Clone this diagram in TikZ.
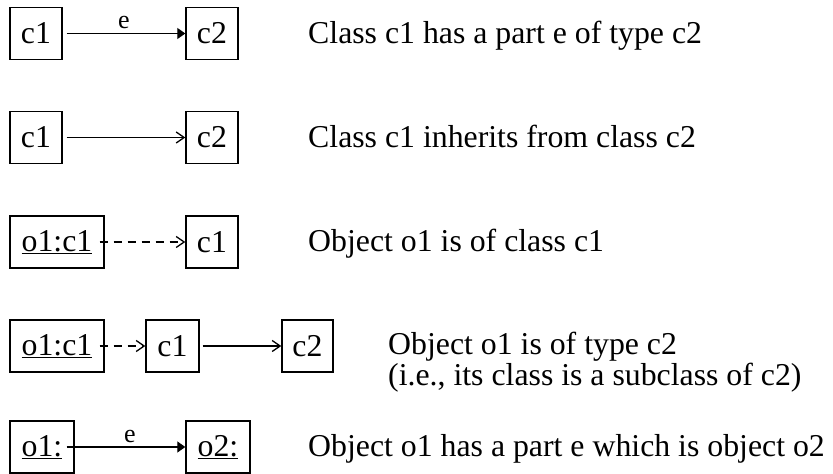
\documentclass[tikz,border=0pt]{standalone}
\usepackage{fontspec}
\setmainfont{Liberation Serif}
\usetikzlibrary{arrows.meta}
\begin{document}
\begin{tikzpicture}[x=1pt,y=1pt,
  box/.style={draw, line width=1.4pt, minimum height=52pt, inner sep=0pt, font=\fontsize{31.8}{36}\selectfont},
  desc/.style={anchor=base west, inner sep=0pt, font=\fontsize{31.8}{31}\selectfont, align=left},
  part/.style={line width=1.3pt, -{Triangle[length=8pt,width=11pt]}},
  inh/.style={line width=1.3pt, -{Straight Barb[length=8pt,width=11pt]}},
  inst/.style={inh, dash pattern=on 8pt off 6pt},
  lab/.style={font=\fontsize{26}{26}\selectfont, above, inner sep=4pt}]
\useasboundingbox (0,0) rectangle (833,474);
% row 1
\node[box, minimum width=52pt] (a1) at (36,440.5) {c1};
\node[box, minimum width=52pt] (b1) at (212,440.5) {c2};
\draw[part, shorten <=4pt] (a1) -- node[lab] (e1) {e} (b1);
\node[desc] (t1) at (308,430.5) {Class c1 has a part e of type c2};
% row 2
\node[box, minimum width=52pt] (a2) at (36,336.5) {c1};
\node[box, minimum width=52pt] (b2) at (212,336.5) {c2};
\draw[inh, shorten <=4pt] (a2) -- (b2);
\node[desc] (t2) at (308,326.5) {Class c1 inherits from class c2};
% row 3
\node[box, minimum width=94pt] (a3) at (57,232) {\underline{o1:c1}};
\node[box, minimum width=52pt] (b3) at (212,232) {c1};
\draw[inst, shorten <=-5pt] (a3) -- (b3);
\node[desc] (t3) at (308,222) {Object o1 is of class c1};
% row 4
\node[box, minimum width=94pt] (a4) at (57,128) {\underline{o1:c1}};
\node[box, minimum width=53pt] (b4) at (172.5,128) {c1};
\node[box, minimum width=51pt] (c4) at (307.5,128) {c2};
\draw[inst, shorten <=-5pt] (a4) -- (b4);
\draw[inh, shorten <=3pt] (b4) -- (c4);
\node[desc] (t4) at (388,88) {Object o1 is of type c2\\(i.e., its class is a subclass of c2)};
% row 5
\node[box, minimum width=64pt] (a5) at (42,27) {\underline{o1:}};
\node[box, minimum width=64pt] (b5) at (218,27) {\underline{o2:}};
\draw[part, shorten <=-8pt] (a5) -- node[lab] (e5) {e} (b5);
\node[desc] (t5) at (308,17) {Object o1 has a part e which is object o2};
\end{tikzpicture}
\end{document}
